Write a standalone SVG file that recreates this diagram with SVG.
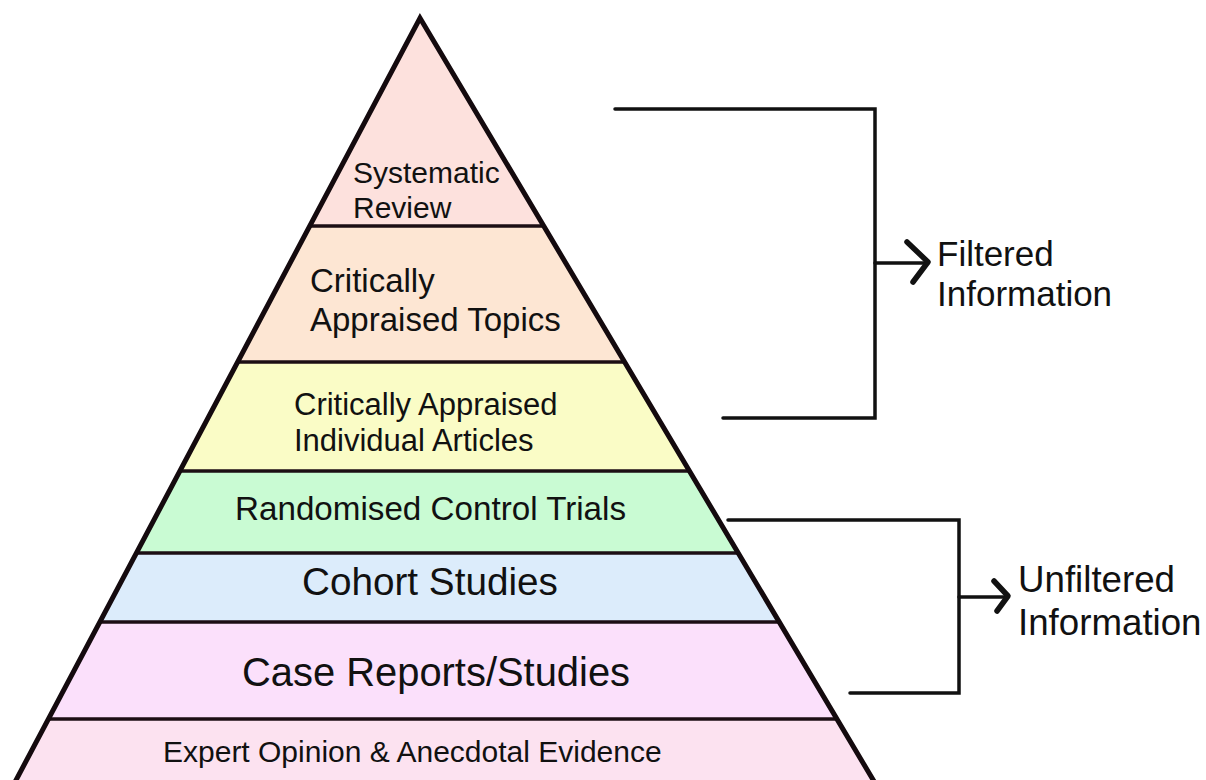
<svg xmlns="http://www.w3.org/2000/svg" width="1206" height="780" viewBox="0 0 1206 780">
<style>
.tier{stroke:none}
.div{stroke:#1c0e14;stroke-width:3.5;fill:none}
.edge{stroke:#140a0e;stroke-width:5;fill:none;stroke-linejoin:miter}
.lbl{font-family:"Liberation Sans",Arial,Helvetica,sans-serif;fill:#111}
.br{stroke:#111;stroke-width:3.5;fill:none;stroke-linecap:round;stroke-linejoin:miter}
.chev{stroke:#111;stroke-width:5.5;fill:none;stroke-linecap:round;stroke-linejoin:round}
</style>
<rect width="1206" height="780" fill="#ffffff"/>
<g id="tier-systematic-review">
<polygon class="tier" fill="#fde1dd" points="420,18 543.8,226 309.8,226"/>
<text class="lbl" font-size="30" x="353" y="183">Systematic</text>
<text class="lbl" font-size="30" x="353" y="218">Review</text>
</g>
<g id="tier-critically-appraised-topics">
<polygon class="tier" fill="#fde6d3" points="309.8,226 543.8,226 624.7,362 237.7,362"/>
<text class="lbl" font-size="33" x="310" y="292">Critically</text>
<text class="lbl" font-size="33" x="310" y="331">Appraised Topics</text>
</g>
<g id="tier-critically-appraised-articles">
<polygon class="tier" fill="#fafcc6" points="237.7,362 624.7,362 689.5,471 179.9,471"/>
<text class="lbl" font-size="31" x="294" y="415">Critically Appraised</text>
<text class="lbl" font-size="31" x="294" y="451">Individual Articles</text>
</g>
<g id="tier-rct">
<polygon class="tier" fill="#c9fbd3" points="179.9,471 689.5,471 738.3,553 136.4,553"/>
<text class="lbl" font-size="33.2" x="235" y="520">Randomised Control Trials</text>
</g>
<g id="tier-cohort">
<polygon class="tier" fill="#dcecfb" points="136.4,553 738.3,553 779.4,622 99.9,622"/>
<text class="lbl" font-size="38.7" x="302" y="595">Cohort Studies</text>
</g>
<g id="tier-case-reports">
<polygon class="tier" fill="#fbe0fb" points="99.9,622 779.4,622 837.1,719 48.5,719"/>
<text class="lbl" font-size="39.9" x="242" y="686">Case Reports/Studies</text>
</g>
<g id="tier-expert-opinion">
<polygon class="tier" fill="#fce2f0" points="48.5,719 837.1,719 873.4,780 16.1,780"/>
<text class="lbl" font-size="30" x="163" y="762">Expert Opinion &amp; Anecdotal Evidence</text>
</g>
<g id="pyramid-outline">
<line class="div" x1="309.8" y1="226" x2="543.8" y2="226"/>
<line class="div" x1="237.7" y1="362" x2="624.7" y2="362"/>
<line class="div" x1="179.9" y1="471" x2="689.5" y2="471"/>
<line class="div" x1="136.4" y1="553" x2="738.3" y2="553"/>
<line class="div" x1="99.9" y1="622" x2="779.4" y2="622"/>
<line class="div" x1="48.5" y1="719" x2="837.1" y2="719"/>
<polyline class="edge" points="14.5,783 420,18 875,783"/>
</g>
<g id="connectors">
<polyline class="br" points="615,109 875,109 875,418 723,418"/>
<line class="br" x1="875" y1="263" x2="928" y2="263"/>
<polyline class="chev" points="907,242 928,262 913,282"/>
<polyline class="br" points="728,520 959,520 959,693 850,693"/>
<line class="br" x1="959" y1="597" x2="1006" y2="597"/>
<polyline class="chev" points="994,581 1008,596 997,611"/>
</g>
<g id="label-filtered">
<text class="lbl" font-size="35" x="937" y="266">Filtered</text>
<text class="lbl" font-size="35" x="937" y="306">Information</text>
</g>
<g id="label-unfiltered">
<text class="lbl" font-size="36.7" x="1018" y="592">Unfiltered</text>
<text class="lbl" font-size="36.7" x="1018" y="635">Information</text>
</g>
</svg>
